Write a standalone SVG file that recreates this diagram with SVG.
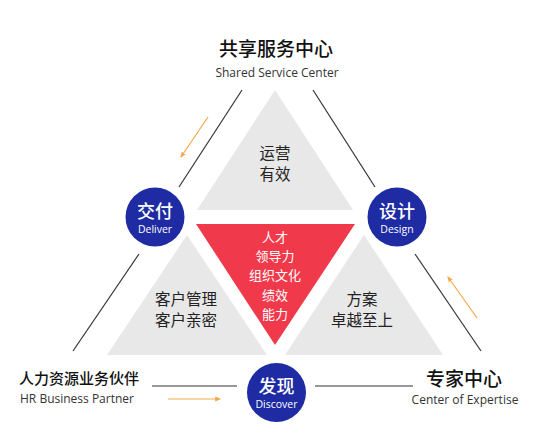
<svg xmlns="http://www.w3.org/2000/svg" width="553" height="439" viewBox="0 0 553 439">
<defs>
<style>
.zh{font-family:"Noto Sans CJK SC","Noto Sans",sans-serif;}
.en{font-family:"Open Sans","Liberation Sans",sans-serif;}
.tri{fill:#E8E8E8;}
.circ{fill:#1E2BA3;}
.ln{stroke:#333;stroke-width:1.2;fill:none;}
.arr{stroke:#F5A94A;stroke-width:1.2;fill:none;marker-end:url(#ah);}
</style>
<marker id="ah" viewBox="0 0 10 10" refX="8" refY="5" markerWidth="5" markerHeight="5" orient="auto">
<path d="M0,1 L10,5 L0,9 z" fill="#F5A94A"/>
</marker>
</defs>
<rect width="553" height="439" fill="#fff"/>
<g id="connectors">
<line class="ln" x1="242" y1="90" x2="179" y2="187"/>
<line class="ln" x1="139" y1="254" x2="73" y2="351"/>
<line class="ln" x1="313" y1="90" x2="375" y2="187"/>
<line class="ln" x1="415" y1="254" x2="481" y2="351"/>
<line class="ln" x1="152" y1="386" x2="237" y2="386"/>
<line class="ln" x1="315" y1="386" x2="413" y2="386"/>
<line class="arr" x1="208" y1="117" x2="181" y2="157"/>
<line class="arr" x1="168" y1="399" x2="220" y2="399"/>
<line class="arr" x1="477" y1="318" x2="448" y2="277"/>
</g>
<g id="tri-top">
<polygon class="tri" points="275,90 353,210 197,210"/>
<text class="zh" x="275" y="159" font-size="15.5" text-anchor="middle" fill="#222">运营</text>
<text class="zh" x="275" y="180" font-size="15.5" text-anchor="middle" fill="#222">有效</text>
</g>
<g id="tri-left">
<polygon class="tri" points="187,235 267,355 107,355"/>
<text class="zh" x="186" y="305" font-size="15.5" text-anchor="middle" fill="#222">客户管理</text>
<text class="zh" x="186" y="326" font-size="15.5" text-anchor="middle" fill="#222">客户亲密</text>
</g>
<g id="tri-right">
<polygon class="tri" points="364,235 443,355 285,355"/>
<text class="zh" x="362" y="305" font-size="15.5" text-anchor="middle" fill="#222">方案</text>
<text class="zh" x="362" y="326" font-size="15.5" text-anchor="middle" fill="#222">卓越至上</text>
</g>
<g id="tri-center">
<polygon points="196,224 355,224 275,345" fill="#F03A4C"/>
<g class="zh" font-size="13" text-anchor="middle" fill="#fff">
<text x="275" y="242">人才</text>
<text x="275" y="261">领导力</text>
<text x="275" y="280">组织文化</text>
<text x="275" y="300">绩效</text>
<text x="275" y="319">能力</text>
</g>
</g>
<g id="ssc">
<text class="zh" x="276" y="56" font-size="19" font-weight="500" text-anchor="middle" fill="#111">共享服务中心</text>
<text class="en" x="277" y="77" font-size="12" text-anchor="middle" fill="#333">Shared Service Center</text>
</g>
<g id="hrbp">
<text class="zh" x="79" y="384" font-size="15" font-weight="500" text-anchor="middle" fill="#111">人力资源业务伙伴</text>
<text class="en" x="77" y="403" font-size="12" text-anchor="middle" fill="#333">HR Business Partner</text>
</g>
<g id="coe">
<text class="zh" x="464" y="386" font-size="19" font-weight="500" text-anchor="middle" fill="#111">专家中心</text>
<text class="en" x="465" y="404" font-size="12" text-anchor="middle" fill="#333">Center of Expertise</text>
</g>
<g id="deliver">
<circle class="circ" cx="155" cy="217" r="29.5"/>
<text class="zh" x="155" y="218" font-size="18" font-weight="500" text-anchor="middle" fill="#fff">交付</text>
<text class="en" x="155" y="233" font-size="10.5" text-anchor="middle" fill="#fff">Deliver</text>
</g>
<g id="design">
<circle class="circ" cx="397" cy="217" r="29.5"/>
<text class="zh" x="397" y="218" font-size="18" font-weight="500" text-anchor="middle" fill="#fff">设计</text>
<text class="en" x="397" y="233" font-size="10.5" text-anchor="middle" fill="#fff">Design</text>
</g>
<g id="discover">
<circle class="circ" cx="276.5" cy="392.5" r="29.5"/>
<text class="zh" x="276.5" y="393" font-size="18" font-weight="500" text-anchor="middle" fill="#fff">发现</text>
<text class="en" x="276.5" y="408" font-size="10.5" text-anchor="middle" fill="#fff">Discover</text>
</g>
</svg>
